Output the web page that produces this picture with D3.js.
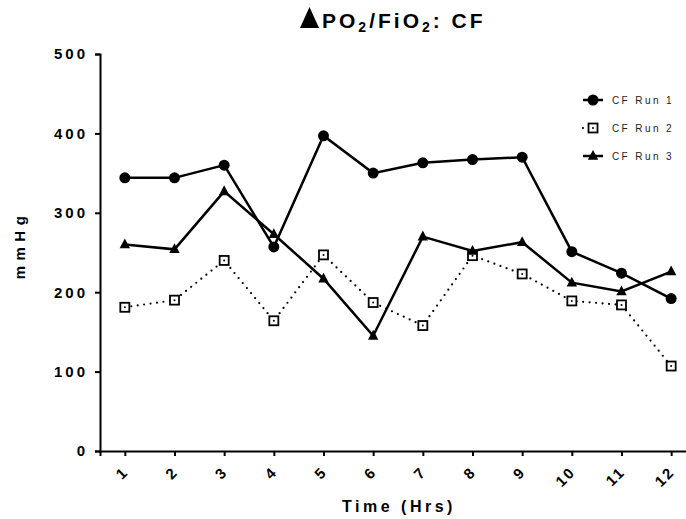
<!DOCTYPE html>
<html>
<head>
<meta charset="utf-8">
<script src="https://cdn.jsdelivr.net/npm/d3@7"></script>
<style>
  body { margin: 0; background: #fff; }
  svg { display: block; font-family: "Liberation Sans", Arial, sans-serif; }
</style>
</head>
<body>
<div id="graphContainer"></div>
<script>
// chart values
const hours = [1, 2, 3, 4, 5, 6, 7, 8, 9, 10, 11, 12];
const run1 = [344, 344, 360, 257, 397, 350, 363, 367, 370, 251, 224, 192];
const run2 = [181, 190, 240, 164, 247, 187, 158, 246, 223, 189, 184, 107];
const run3 = [260, 254, 327, 273, 217, 145, 270, 252, 263, 212, 201, 226];
const yTicks = [0, 100, 200, 300, 400, 500];
const seriesNames = ["CF  Run 1", "CF Run 2", "CF Run 3"];

const width = 686, height = 519;

const svg = d3.select("#graphContainer").append("svg")
    .attr("width", width)
    .attr("height", height);

const x = d3.scaleLinear().domain([0.5, 12.5]).range([100, 696]);
const y = d3.scaleLinear().domain([0, 500]).range([451, 54]);

// axes
const yAxis = svg.append("g")
    .attr("transform", "translate(100,0)")
    .call(d3.axisLeft(y).tickValues(yTicks).tickSize(5).tickPadding(7).tickFormat(d3.format("d")));
yAxis.selectAll("text")
    .style("font-size", "15px")
    .style("font-weight", "bold")
    .style("letter-spacing", "3px")
    .attr("fill", "#000");

const xAxis = svg.append("g")
    .attr("transform", "translate(0,451)")
    .call(d3.axisBottom(x).tickValues(hours).tickSize(5).tickFormat(d3.format("d")));
xAxis.selectAll("text")
    .style("font-size", "15px")
    .style("font-weight", "bold")
    .style("letter-spacing", "2px")
    .attr("fill", "#000")
    .attr("text-anchor", "end")
    .attr("dy", 0)
    .attr("y", 0)
    .attr("transform", "translate(4,22) rotate(-45)");

svg.selectAll(".domain, .tick line")
    .style("stroke", "#000")
    .style("stroke-width", "2px");

// axis titles
svg.append("text")
    .attr("x", 399)
    .attr("y", 512)
    .attr("text-anchor", "middle")
    .style("font-size", "16px")
    .style("font-weight", "bold")
    .style("letter-spacing", "3.5px")
    .text("Time (Hrs)");

svg.append("text")
    .attr("transform", "translate(25,245) rotate(-90)")
    .attr("text-anchor", "middle")
    .style("font-size", "15px")
    .style("font-weight", "bold")
    .style("letter-spacing", "5.5px")
    .text("mmHg");

// title with subscripts, triangle symbol drawn in front
svg.append("path")
    .attr("d", "M300,28L319,28L309.5,7Z")
    .attr("fill", "#000");

const title = svg.append("text")
    .attr("x", 322)
    .attr("y", 28)
    .style("font-size", "21px")
    .style("font-weight", "bold")
    .style("letter-spacing", "3px");
title.append("tspan").text("PO");
title.append("tspan").attr("dy", 4).style("font-size", "14px").text("2");
title.append("tspan").attr("dy", -4).text("/FiO");
title.append("tspan").attr("dy", 4).style("font-size", "14px").text("2");
title.append("tspan").attr("dy", -4).text(": CF");

// lines
const line = d3.line().x((d, i) => x(hours[i])).y(d => y(d));

svg.append("path").datum(run1)
    .attr("d", line).attr("fill", "none")
    .attr("stroke", "#000").attr("stroke-width", 2.5);

svg.append("path").datum(run2)
    .attr("d", line).attr("fill", "none")
    .attr("stroke", "#000").attr("stroke-width", 2.2)
    .attr("stroke-linecap", "round")
    .attr("stroke-dasharray", "0 6.5");

svg.append("path").datum(run3)
    .attr("d", line).attr("fill", "none")
    .attr("stroke", "#000").attr("stroke-width", 2.5);

// markers
function drawCircle(g, cx, cy) {
    g.append("circle").attr("cx", cx).attr("cy", cy).attr("r", 5.5).attr("fill", "#000");
}
function drawSquare(g, cx, cy) {
    g.append("rect").attr("x", cx - 4.5).attr("y", cy - 4.5)
        .attr("width", 9).attr("height", 9)
        .attr("fill", "#fff").attr("stroke", "#000").attr("stroke-width", 1.8);
    g.append("circle").attr("cx", cx).attr("cy", cy).attr("r", 1).attr("fill", "#000");
}
function drawTriangle(g, cx, cy) {
    g.append("path")
        .attr("d", `M${cx},${cy - 6}L${cx + 5.2},${cy + 3.8}L${cx - 5.2},${cy + 3.8}Z`)
        .attr("fill", "#000");
}

const marks = svg.append("g");
run1.forEach((v, i) => drawCircle(marks, x(hours[i]), y(v)));
run2.forEach((v, i) => drawSquare(marks, x(hours[i]), y(v)));
run3.forEach((v, i) => drawTriangle(marks, x(hours[i]), y(v)));

// legend
const legend = svg.append("g").attr("class", "legend");
const drawers = [drawCircle, drawSquare, drawTriangle];
seriesNames.forEach((name, i) => {
    const ly = 100 + i * 28;
    if (i === 1) {
        legend.append("line").attr("x1", 583).attr("x2", 603).attr("y1", ly).attr("y2", ly)
            .attr("stroke", "#000").attr("stroke-width", 2.2)
            .attr("stroke-linecap", "round").attr("stroke-dasharray", "0 20");
    } else {
        legend.append("line").attr("x1", 583).attr("x2", 603).attr("y1", ly).attr("y2", ly)
            .attr("stroke", "#000").attr("stroke-width", 2.5);
    }
    drawers[i](legend, 593, ly);
    legend.append("text")
        .attr("x", 612)
        .attr("y", ly + 3.5)
        .style("font-size", "10px")
        .style("letter-spacing", "2.4px")
        .attr("fill", "#222")
        .text(name);
});
</script>
</body>
</html>
